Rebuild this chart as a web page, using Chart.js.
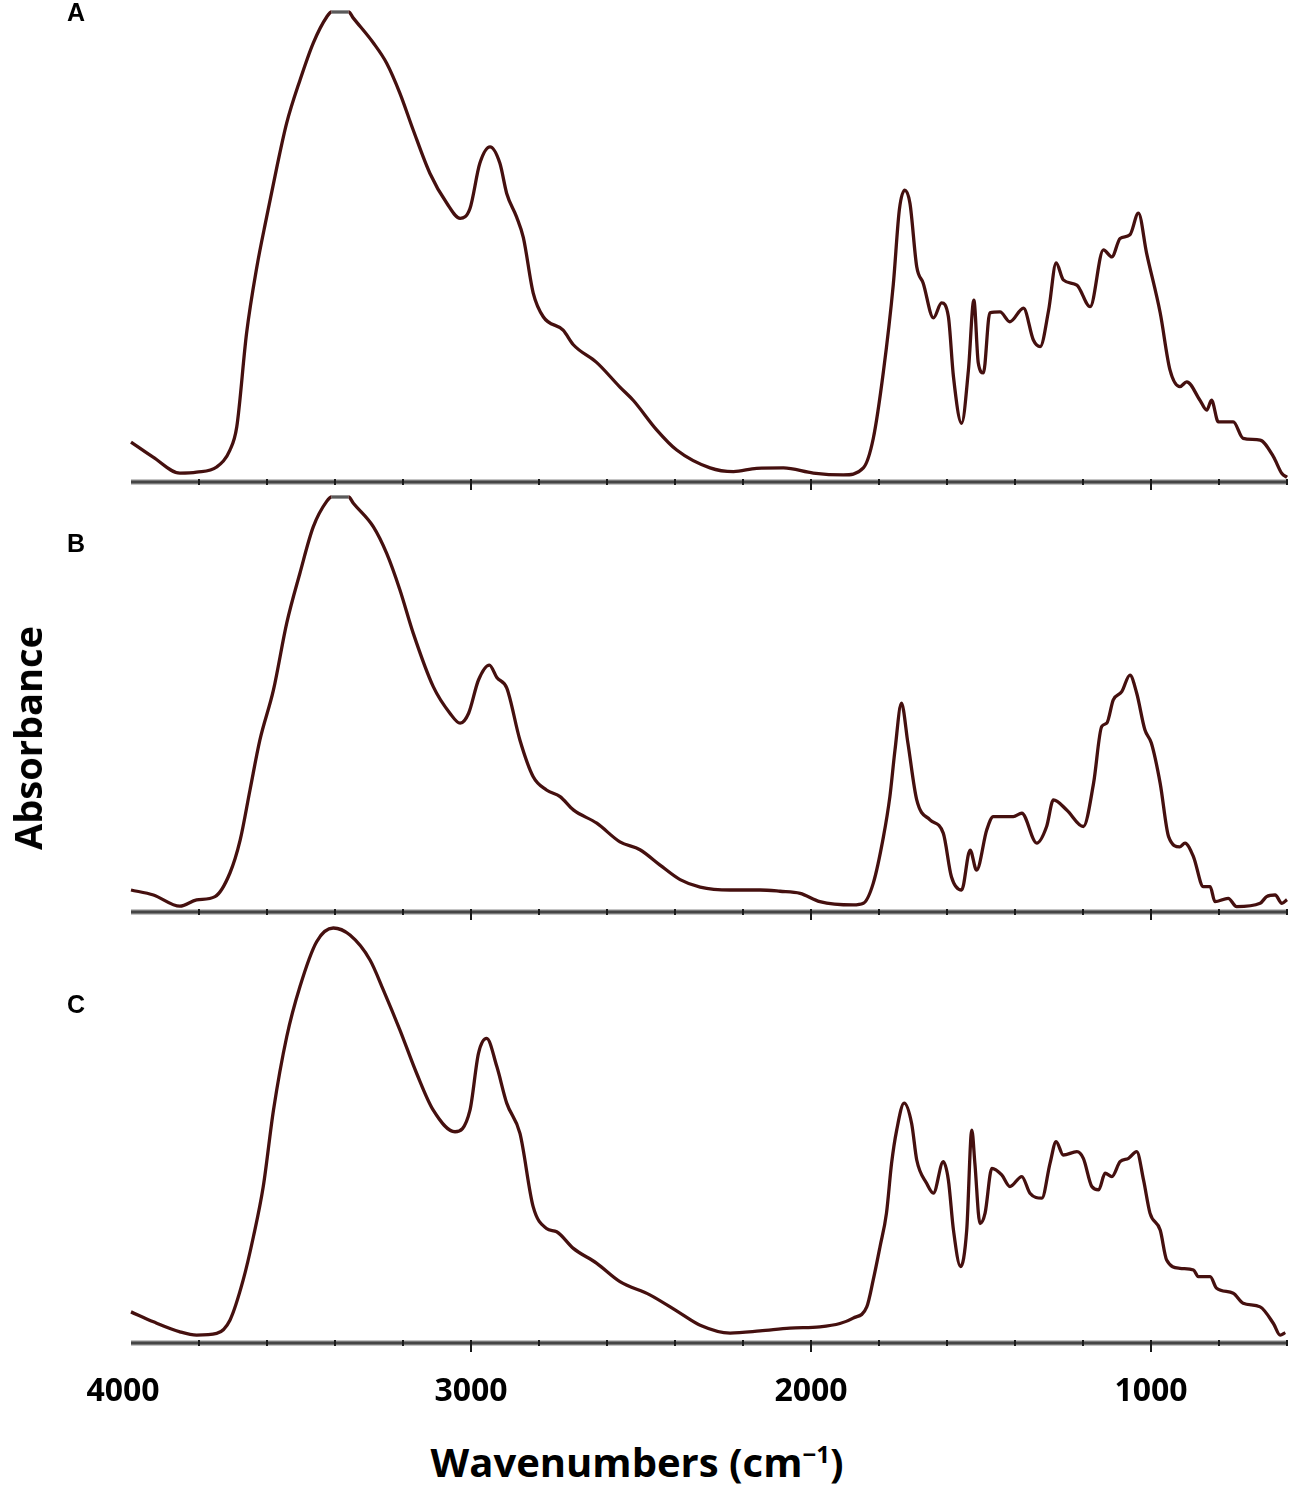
<!DOCTYPE html>
<html lang="en">
<head>
    <meta charset="UTF-8">
    <title>FTIR spectra</title>
    <script src="https://cdn.jsdelivr.net/npm/chart.js"></script>
    <style>
        body { margin: 0; background: #fff; }
        #page { position: relative; width: 1299px; height: 1502px; overflow: hidden; }
        .panel { position: absolute; left: 0; width: 1299px; }
        .letter { position: absolute; left: 67px; font: bold 25px "Liberation Sans", Arial, sans-serif; color: #000; }
        #xTitle { position: absolute; left: 0; width: 1274px; top: 1434px; text-align: center;
                  font: bold 40px "Open Sans", sans-serif; color: #000; }
        #yTitle { position: absolute; left: 27px; top: 738px; transform: translate(-50%, -50%) rotate(-90deg);
                  font: bold 38px "Open Sans", sans-serif; color: #000; white-space: nowrap; }
    </style>
</head>
<body>
<div id="page">
    <div class="panel" style="top:0px;height:490px"><canvas id="chartA" width="1299" height="490"></canvas></div>
    <div class="panel" style="top:490px;height:430px"><canvas id="chartB" width="1299" height="430"></canvas></div>
    <div class="panel" style="top:920px;height:500px"><canvas id="chartC" width="1299" height="500"></canvas></div>
    <div class="letter" style="top:-2px">A</div>
    <div class="letter" style="top:529px">B</div>
    <div class="letter" style="top:990px">C</div>
    <div id="yTitle">Absorbance</div>
    <div id="xTitle">Wavenumbers (cm<sup style="font-size:0.6em">−1</sup>)</div>
</div>

<script>
    // wavenumbers (cm-1) and absorbance (arb. units, panel peak = 1)
    var waveA = [4000, 3935, 3856, 3807, 3748, 3709, 3689, 3660, 3630, 3601, 3571, 3542, 3503, 3464, 3424, 3410,
        3360, 3346, 3287, 3248, 3209, 3170, 3121, 3071, 3032, 3003, 2974, 2944, 2915, 2895, 2866, 2846,
        2817, 2787, 2729, 2699, 2630, 2562, 2523, 2454, 2395, 2297, 2228, 2160, 2081, 1993, 1905, 1846,
        1817, 1787, 1758, 1740, 1724, 1709, 1689, 1670, 1640, 1616, 1596, 1581, 1557, 1537, 1521, 1508,
        1493, 1474, 1444, 1415, 1375, 1346, 1326, 1301, 1279, 1258, 1218, 1179, 1140, 1115, 1091, 1062,
        1037, 1013, 973, 944, 915, 895, 856, 836, 822, 802, 758, 729, 679, 640, 615, 600];
    var absA = [0.085, 0.053, 0.019, 0.021, 0.032, 0.068, 0.117, 0.317, 0.457, 0.564, 0.670, 0.764, 0.855, 0.934, 0.990, 1.0,
        1.0, 0.987, 0.934, 0.891, 0.827, 0.749, 0.657, 0.593, 0.561, 0.582, 0.678, 0.713, 0.678, 0.614, 0.564, 0.520,
        0.402, 0.351, 0.323, 0.292, 0.254, 0.202, 0.174, 0.111, 0.068, 0.030, 0.022, 0.029, 0.030, 0.019, 0.015, 0.030,
        0.092, 0.235, 0.420, 0.580, 0.621, 0.593, 0.458, 0.423, 0.349, 0.381, 0.352, 0.224, 0.125, 0.238, 0.387, 0.253,
        0.232, 0.360, 0.362, 0.341, 0.370, 0.302, 0.288, 0.366, 0.466, 0.430, 0.419, 0.373, 0.494, 0.479, 0.518, 0.526,
        0.572, 0.487, 0.360, 0.238, 0.203, 0.213, 0.174, 0.153, 0.174, 0.128, 0.128, 0.093, 0.089, 0.054, 0.018, 0.010];

    var waveB = [4000, 3934, 3856, 3807, 3753, 3709, 3679, 3650, 3621, 3581, 3542, 3503, 3464, 3424, 3410, 3360,
        3346, 3287, 3248, 3209, 3170, 3111, 3062, 3032, 3007, 2978, 2946, 2924, 2895, 2856, 2817, 2778,
        2738, 2699, 2630, 2562, 2503, 2444, 2385, 2326, 2238, 2150, 2091, 2032, 1974, 1876, 1846, 1817,
        1787, 1768, 1753, 1734, 1715, 1689, 1650, 1611, 1587, 1557, 1532, 1513, 1483, 1464, 1405, 1380,
        1336, 1307, 1287, 1248, 1199, 1169, 1145, 1130, 1111, 1086, 1062, 1042, 1018, 999, 973, 948,
        915, 900, 875, 846, 826, 812, 773, 748, 679, 660, 635, 615, 600];
    var absB = [0.053, 0.041, 0.014, 0.029, 0.037, 0.094, 0.173, 0.294, 0.414, 0.535, 0.696, 0.817, 0.928, 0.990, 1.0, 1.0,
        0.985, 0.928, 0.864, 0.776, 0.672, 0.543, 0.479, 0.455, 0.479, 0.559, 0.595, 0.565, 0.540, 0.414, 0.326, 0.294,
        0.278, 0.246, 0.214, 0.169, 0.150, 0.113, 0.078, 0.060, 0.053, 0.053, 0.050, 0.045, 0.025, 0.017, 0.021, 0.069,
        0.181, 0.278, 0.390, 0.503, 0.407, 0.270, 0.222, 0.190, 0.085, 0.053, 0.149, 0.101, 0.198, 0.230, 0.230, 0.238,
        0.166, 0.206, 0.270, 0.246, 0.206, 0.310, 0.447, 0.455, 0.511, 0.531, 0.571, 0.527, 0.439, 0.407, 0.310, 0.181,
        0.157, 0.166, 0.133, 0.061, 0.061, 0.025, 0.033, 0.013, 0.021, 0.037, 0.041, 0.021, 0.030];

    var waveC = [4000, 3934, 3856, 3807, 3748, 3709, 3670, 3640, 3611, 3581, 3542, 3503, 3454, 3405, 3356, 3297,
        3258, 3209, 3160, 3111, 3047, 3003, 2978, 2954, 2924, 2895, 2856, 2817, 2778, 2748, 2699, 2630,
        2562, 2474, 2385, 2326, 2238, 2150, 2062, 1974, 1915, 1876, 1836, 1817, 1797, 1778, 1763, 1748,
        1726, 1704, 1689, 1660, 1640, 1611, 1596, 1581, 1560, 1542, 1527, 1518, 1503, 1488, 1468, 1439,
        1415, 1380, 1356, 1321, 1297, 1279, 1258, 1218, 1199, 1174, 1154, 1135, 1115, 1091, 1066, 1042,
        1022, 1003, 973, 954, 915, 875, 861, 826, 807, 758, 729, 679, 640, 620, 605];
    var absC = [0.075, 0.051, 0.027, 0.019, 0.023, 0.055, 0.152, 0.256, 0.377, 0.561, 0.738, 0.859, 0.967, 1.0, 0.983, 0.923,
        0.851, 0.754, 0.650, 0.561, 0.509, 0.561, 0.698, 0.734, 0.666, 0.578, 0.505, 0.328, 0.276, 0.268, 0.228, 0.192,
        0.148, 0.116, 0.072, 0.043, 0.024, 0.029, 0.036, 0.039, 0.047, 0.060, 0.087, 0.152, 0.232, 0.313, 0.433, 0.513,
        0.578, 0.529, 0.441, 0.385, 0.361, 0.437, 0.393, 0.272, 0.184, 0.272, 0.513, 0.433, 0.288, 0.313, 0.421, 0.405,
        0.377, 0.401, 0.361, 0.349, 0.433, 0.485, 0.453, 0.461, 0.445, 0.377, 0.369, 0.409, 0.401, 0.437, 0.445, 0.461,
        0.393, 0.313, 0.272, 0.200, 0.180, 0.176, 0.160, 0.160, 0.132, 0.120, 0.096, 0.087, 0.047, 0.019, 0.025];

    var tickLabels = [4000, 3000, 2000, 1000];
    var minorTicks = [3800, 3600, 3400, 3200, 3000, 2800, 2600, 2400, 2200, 2000, 1800, 1600, 1400, 1200, 1000, 800, 600];

    var lineColor = '#45100f';
    var saturatedColor = '#5a5a5a';

    // draws the grey baseline with tick marks, and labels on the last panel
    var spectrumAxis = {
        id: 'spectrumAxis',
        beforeDatasetsDraw: function (chart, args, opts) {
            var ctx = chart.ctx;
            var area = chart.chartArea;
            var xs = chart.scales.x;
            var y0 = area.bottom;
            ctx.save();
            ctx.strokeStyle = '#8a8a8a';
            ctx.lineWidth = 5;
            ctx.beginPath();
            ctx.moveTo(xs.getPixelForValue(4000), y0);
            ctx.lineTo(xs.getPixelForValue(600), y0);
            ctx.stroke();
            ctx.strokeStyle = '#454545';
            ctx.lineWidth = 2.5;
            ctx.beginPath();
            ctx.moveTo(xs.getPixelForValue(4000), y0);
            ctx.lineTo(xs.getPixelForValue(600), y0);
            ctx.stroke();

            ctx.strokeStyle = '#1a1a1a';
            ctx.lineWidth = 2;
            minorTicks.forEach(function (w) {
                var x = Math.round(xs.getPixelForValue(w));
                var major = w % 1000 === 0;
                ctx.beginPath();
                ctx.moveTo(x, y0 - 3);
                ctx.lineTo(x, y0 + (major ? 9 : 3));
                ctx.stroke();
            });

            if (opts.labels) {
                ctx.fillStyle = '#000';
                ctx.font = 'bold 32px "Open Sans", sans-serif';
                ctx.textAlign = 'center';
                ctx.textBaseline = 'middle';
                tickLabels.forEach(function (w) {
                    var x = xs.getPixelForValue(w);
                    if (w === 4000) x -= 8;
                    ctx.fillText(String(w), x, y0 + 49);
                });
            }
            ctx.restore();
        }
    };

    function makePanel(canvasId, waves, values, padTop, padBottom, showLabels) {
        var points = waves.map(function (w, i) { return { x: w, y: values[i] }; });
        return new Chart(document.getElementById(canvasId).getContext('2d'), {
            type: 'line',
            data: {
                datasets: [{
                    data: points,
                    borderColor: lineColor,
                    borderWidth: 3.3,
                    pointRadius: 0,
                    fill: false,
                    cubicInterpolationMode: 'monotone',
                    clip: false,
                    segment: {
                        borderColor: function (c) {
                            return (c.p0.parsed.y > 0.995 && c.p1.parsed.y > 0.995) ? saturatedColor : undefined;
                        }
                    }
                }]
            },
            options: {
                responsive: false,
                animation: false,
                layout: { padding: { left: 131, right: 12, top: padTop, bottom: padBottom } },
                scales: {
                    x: { type: 'linear', reverse: true, min: 600, max: 4000, display: false },
                    y: { min: 0, max: 1, display: false }
                },
                plugins: {
                    legend: { display: false },
                    tooltip: { enabled: false },
                    spectrumAxis: { labels: showLabels }
                }
            },
            plugins: [spectrumAxis]
        });
    }

    makePanel('chartA', waveA, absA, 12, 8, false);
    makePanel('chartB', waveB, absB, 7, 8, false);
    makePanel('chartC', waveC, absC, 8, 77, true);
</script>
</body>
</html>
